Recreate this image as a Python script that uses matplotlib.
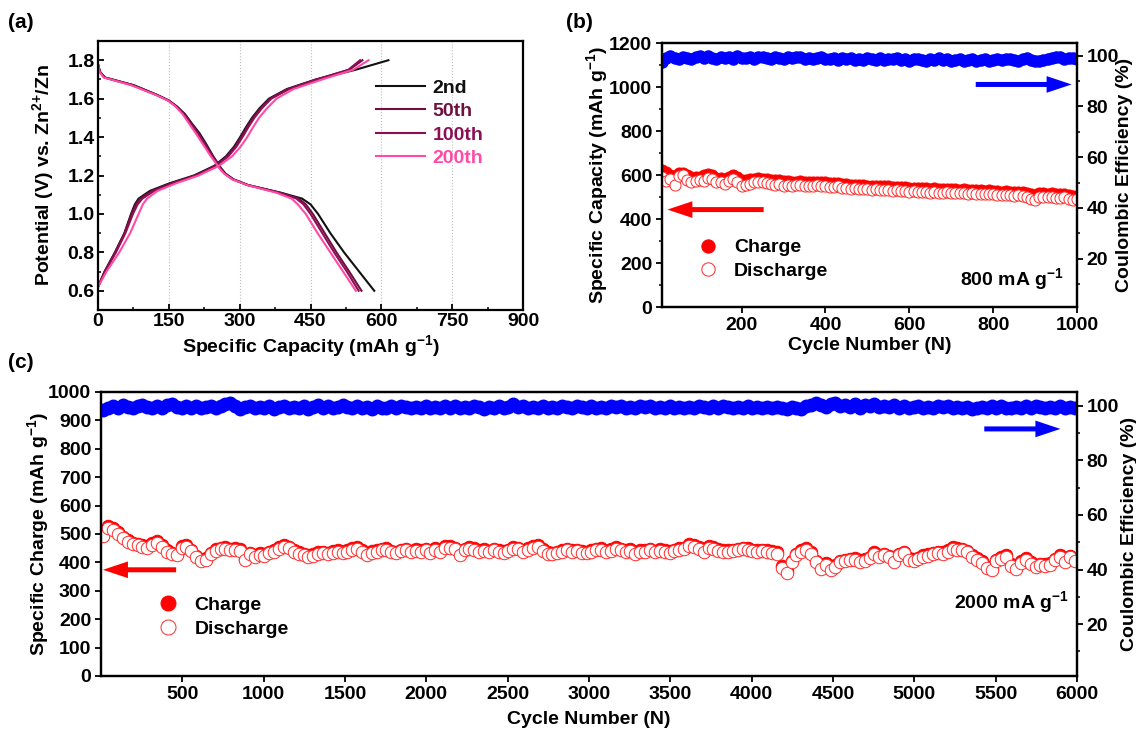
import numpy as np
import matplotlib
matplotlib.use('Agg')
import matplotlib.pyplot as plt
from matplotlib.ticker import MultipleLocator, FixedLocator, FormatStrFormatter

plt.rcParams['font.family'] = ['Liberation Sans', 'DejaVu Sans']
plt.rcParams['font.weight'] = 'bold'
plt.rcParams['axes.labelweight'] = 'bold'
plt.rcParams['mathtext.fontset'] = 'custom'
plt.rcParams['mathtext.rm'] = 'Liberation Sans:bold'
plt.rcParams['mathtext.it'] = 'Liberation Sans:bold'
plt.rcParams['mathtext.bf'] = 'Liberation Sans:bold'
plt.rcParams['mathtext.default'] = 'rm'

# ---------------- Panel (a) data: galvanostatic profiles ----------------
cycle_labels = ['2nd', '50th', '100th', '200th']
cycle_colors = ['#111111', '#6e1040', '#8c0f55', '#ff4aa6']

charge_voltage = [0.62, 0.70, 0.80, 0.90, 1.00, 1.05, 1.08, 1.12, 1.16, 1.20, 1.25,
                  1.30, 1.35, 1.40, 1.45, 1.50, 1.55, 1.60, 1.65, 1.70, 1.75, 1.80]
charge_cap_2nd = [0, 14, 36, 56, 70, 78, 86, 110, 152, 203, 246, 271, 288, 301, 313, 326, 342, 362, 400, 462, 545, 615]
charge_cap_50th = [0, 14, 36, 56, 71, 80, 89, 114, 156, 206, 248, 273, 290, 303, 315, 328, 344, 364, 402, 462, 532, 560]
charge_cap_100th = [0, 15, 38, 58, 74, 84, 94, 119, 160, 208, 250, 276, 293, 306, 318, 331, 347, 367, 405, 465, 530, 555]
charge_cap_200th = [0, 18, 45, 68, 86, 95, 104, 126, 166, 213, 256, 284, 302, 316, 328, 341, 358, 378, 414, 475, 540, 573]

discharge_voltage = [1.78, 1.74, 1.71, 1.67, 1.62, 1.59, 1.56, 1.52, 1.47, 1.42, 1.36, 1.30, 1.27,
                     1.24, 1.21, 1.18, 1.15, 1.11, 1.08, 1.05, 1.00, 0.90, 0.80, 0.70, 0.60]
discharge_cap_2nd = [0, 4, 15, 76, 125, 150, 167, 184, 199, 215, 230, 244, 252, 260, 270, 287, 318, 388, 432, 450, 466, 492, 521, 553, 585]
discharge_cap_50th = [0, 4, 14, 74, 124, 150, 166, 183, 198, 213, 228, 243, 251, 259, 269, 286, 318, 386, 425, 440, 455, 480, 505, 532, 558]
discharge_cap_100th = [0, 4, 14, 73, 123, 149, 165, 181, 196, 211, 227, 242, 250, 258, 268, 285, 317, 384, 420, 435, 450, 475, 500, 527, 552]
discharge_cap_200th = [0, 3, 12, 70, 122, 148, 164, 179, 193, 207, 223, 239, 248, 256, 267, 284, 316, 378, 410, 423, 440, 465, 492, 519, 546]

charge_caps = [charge_cap_2nd, charge_cap_50th, charge_cap_100th, charge_cap_200th]
discharge_caps = [discharge_cap_2nd, discharge_cap_50th, discharge_cap_100th, discharge_cap_200th]

# ---------------- Panel (b) data: 800 mA/g cycling (every 10 cycles) ----------------
discharge_b = [593, 575, 582, 556, 595, 600, 578, 566, 572, 578,
               575, 586, 580, 568, 566, 560, 572, 580, 570, 552,
               556, 560, 566, 570, 566, 563, 560, 556, 560, 552,
               555, 550, 553, 556, 550, 548, 552, 554, 548, 550,
               546, 544, 548, 540, 542, 538, 540, 536, 538, 535,
               534, 536, 530, 532, 534, 528, 530, 526, 528, 524,
               526, 523, 525, 522, 520, 524, 520, 518, 522, 520,
               518, 516, 519, 515, 517, 513, 515, 512, 514, 512,
               510, 508, 511, 508, 506, 508, 504, 502, 492, 488,
               500, 502, 498, 500, 497, 495, 498, 492, 488, 490]
charge_b = [622, 615, 600, 595, 610, 608, 598, 592, 590, 592,
            598, 605, 598, 588, 585, 583, 590, 600, 592, 578,
            576, 580, 584, 585, 582, 580, 578, 576, 576, 572,
            572, 570, 570, 572, 568, 566, 568, 570, 566, 566,
            563, 562, 563, 558, 559, 556, 556, 553, 554, 552,
            551, 552, 548, 549, 550, 546, 547, 544, 545, 542,
            543, 541, 542, 539, 538, 540, 537, 535, 538, 537,
            535, 533, 535, 532, 533, 530, 531, 529, 530, 528,
            527, 525, 527, 525, 523, 524, 521, 519, 512, 510,
            516, 518, 515, 516, 514, 512, 513, 508, 505, 503]
ce_b = [97.4, 99.0, 99.8, 99.2, 98.6, 99.6, 99.1, 98.5, 99.5, 99.8,
        99.0, 99.8, 99.2, 98.7, 99.6, 99.1, 99.5, 98.6, 99.7, 99.2,
        98.9, 99.5, 98.7, 99.3, 99.6, 98.9, 98.6, 99.3, 99.1, 98.7,
        99.4, 98.9, 99.3, 99.6, 98.7, 99.2, 98.6, 99.0, 99.4, 98.5,
        98.8, 99.2, 98.4, 98.9, 98.7, 99.1, 98.3, 98.8, 98.2, 98.9,
        98.6, 98.4, 98.9, 98.3, 98.8, 98.5, 98.9, 98.2, 98.7, 98.0,
        98.6, 98.8, 98.4, 98.1, 98.7, 98.4, 98.9, 98.2, 98.6, 98.1,
        98.4, 98.7, 98.0, 98.3, 98.6, 97.9, 98.2, 98.5, 98.0, 98.4,
        98.7, 98.2, 98.5, 98.8, 98.3, 98.0, 98.6, 98.9, 98.4, 98.1,
        97.9, 98.4, 98.8, 99.0, 99.3, 99.4, 98.8, 99.1, 99.2, 98.6]
cycles_b = np.arange(10, 1001, 10)

# ---------------- Panel (c) data: 2000 mA/g cycling (every 30 cycles) ----------------
discharge_c = [492, 520, 515, 500, 485, 472, 465, 460, 455, 452,
               462, 470, 455, 438, 428, 425, 452, 455, 440, 418,
               404, 410, 428, 440, 446, 448, 442, 445, 440, 408,
               428, 420, 426, 424, 432, 438, 448, 455, 450, 438,
               430, 426, 420, 424, 430, 432, 428, 434, 436, 432,
               438, 445, 448, 438, 425, 434, 438, 442, 444, 436,
               432, 440, 442, 436, 440, 438, 442, 432, 444, 438,
               450, 452, 446, 425, 442, 448, 444, 438, 440, 436,
               442, 438, 434, 440, 448, 446, 438, 444, 452, 455,
               440, 430, 428, 432, 438, 442, 436, 440, 434, 432,
               438, 442, 444, 436, 440, 448, 442, 438, 440, 430,
               436, 438, 442, 436, 440, 438, 434, 440, 444, 446,
               458, 455, 448, 436, 452, 448, 440, 438, 436, 440,
               442, 446, 444, 440, 438, 440, 436, 434, 430, 382,
               362, 400, 425, 438, 445, 430, 400, 378, 392, 372,
               385, 400, 404, 408, 410, 402, 405, 415, 430, 420,
               425, 418, 402, 425, 432, 410, 405, 412, 420, 424,
               428, 432, 430, 438, 448, 445, 442, 436, 420, 410,
               398, 380, 372, 405, 412, 420, 388, 376, 398, 410,
               395, 385, 390, 388, 392, 408, 420, 402, 418, 406]
charge_c = [498, 527, 521, 506, 491, 478, 470, 466, 461, 457,
            468, 476, 461, 443, 434, 430, 458, 461, 445, 424,
            409, 416, 434, 446, 451, 454, 447, 451, 446, 413,
            434, 425, 432, 429, 438, 443, 454, 461, 455, 444,
            436, 431, 426, 429, 436, 437, 434, 439, 442, 437,
            444, 450, 454, 443, 431, 439, 444, 447, 450, 441,
            438, 445, 448, 441, 446, 443, 448, 437, 450, 443,
            456, 457, 452, 430, 448, 453, 450, 443, 446, 441,
            448, 443, 440, 445, 454, 451, 444, 449, 458, 460,
            446, 435, 434, 437, 444, 447, 442, 445, 440, 437,
            444, 447, 450, 441, 446, 453, 448, 443, 446, 435,
            442, 443, 448, 441, 446, 443, 440, 445, 450, 451,
            464, 460, 454, 441, 458, 453, 446, 443, 442, 445,
            448, 451, 450, 445, 444, 445, 442, 439, 436, 388,
            368, 405, 431, 443, 451, 435, 406, 383, 398, 377,
            391, 405, 410, 413, 416, 407, 411, 420, 436, 425,
            431, 423, 408, 430, 438, 415, 411, 417, 426, 429,
            434, 437, 436, 443, 454, 450, 448, 441, 426, 415,
            404, 385, 378, 410, 418, 425, 394, 381, 404, 415,
            401, 390, 396, 393, 398, 413, 426, 407, 424, 411]
ce_c = [98.4, 99.3, 99.8, 99.2, 100.1, 99.6, 99.0, 99.7, 100.3, 99.4,
        99.1, 99.8, 99.2, 100.2, 100.6, 99.5, 99.0, 99.9, 99.3, 99.7,
        99.0, 99.6, 100.0, 99.2, 99.8, 100.5, 100.8, 99.8, 98.9, 99.4,
        99.8, 99.1, 99.6, 99.2, 100.0, 98.8, 99.4, 99.9, 99.0, 99.6,
        99.2, 99.8, 98.9, 99.6, 100.1, 99.2, 99.8, 99.0, 99.6, 100.2,
        99.4, 99.0, 99.7, 99.2, 99.6, 98.9, 99.9, 99.3, 99.0, 99.7,
        99.2, 100.0, 99.4, 99.1, 99.6, 99.0, 99.8, 99.3, 99.6, 99.1,
        99.7, 99.3, 100.0, 99.2, 99.6, 99.0, 99.8, 99.4, 98.9, 99.6,
        99.2, 99.8, 99.0, 99.6, 100.6, 99.4, 99.8, 99.2, 99.6, 99.0,
        99.7, 99.3, 99.6, 99.1, 100.0, 99.4, 99.0, 99.8, 99.5, 99.2,
        99.8, 99.3, 99.6, 99.0, 99.7, 99.4, 99.9, 99.2, 99.6, 99.1,
        99.7, 99.4, 100.0, 99.2, 99.6, 99.1, 99.8, 99.3, 99.6, 99.2,
        99.6, 99.2, 99.8, 99.4, 99.0, 99.7, 99.3, 99.9, 99.4, 99.1,
        99.6, 99.3, 99.8, 99.2, 99.6, 99.0, 99.5, 99.2, 99.6, 99.3,
        98.6, 99.5, 99.2, 98.8, 99.7, 100.4, 100.8, 100.1, 99.4, 100.6,
        100.9, 99.8, 100.3, 99.6, 100.5, 99.3, 100.2, 99.8, 100.6, 99.4,
        99.9, 99.4, 100.1, 99.2, 99.7, 99.0, 99.6, 99.9, 99.3, 99.6,
        99.1, 99.7, 99.4, 99.9, 99.2, 99.6, 99.0, 99.5, 98.7, 99.3,
        99.6, 99.1, 99.7, 99.3, 99.8, 99.2, 99.0, 99.6, 99.3, 99.8,
        99.2, 99.7, 99.4, 99.0, 99.6, 99.3, 99.8, 99.2, 99.6, 99.1]
cycles_c = np.arange(15, 6000, 30)

# ---------------- Figure ----------------
W, H = 1136, 731
fig = plt.figure(figsize=(W / 100, H / 100), dpi=100)

def px_rect(l, t, r, b):
    return [l / W, 1 - b / H, (r - l) / W, (b - t) / H]

FS = 14
SPINE_W = 1.6

def style_axes(ax, direction='out'):
    for s in ax.spines.values():
        s.set_linewidth(SPINE_W)
    ax.tick_params(which='major', direction=direction, length=4.5, width=1.3, labelsize=FS, pad=2.5)
    ax.tick_params(which='minor', direction=direction, length=2.5, width=1.1)

# ---- (a)
ax_a = fig.add_axes(px_rect(98, 41, 523, 310))
lines = []
for lab, col, qc, qd in zip(cycle_labels, cycle_colors, charge_caps, discharge_caps):
    ln, = ax_a.plot(qc, charge_voltage, color=col, lw=1.5, label=lab)
    ax_a.plot(qd, discharge_voltage, color=col, lw=1.5)
    lines.append(ln)
ax_a.set_xlim(0, 900)
ax_a.set_ylim(0.5, 1.9)
ax_a.xaxis.set_major_locator(MultipleLocator(150))
ax_a.xaxis.set_minor_locator(MultipleLocator(75))
ax_a.yaxis.set_major_locator(FixedLocator([0.6, 0.8, 1.0, 1.2, 1.4, 1.6, 1.8]))
ax_a.yaxis.set_minor_locator(MultipleLocator(0.1))
ax_a.yaxis.set_major_formatter(FormatStrFormatter('%.1f'))
ax_a.xaxis.grid(True, ls=':', color='#bdbdbd', lw=0.8)
style_axes(ax_a, 'in')
ax_a.set_xlabel('Specific Capacity (mAh g$^{-1}$)', fontsize=FS, labelpad=2)
ax_a.set_ylabel('Potential (V) vs. Zn$^{2{+}}$/Zn', fontsize=FS, labelpad=8)
leg = ax_a.legend(handles=lines, loc='upper left', bbox_to_anchor=(0.655, 0.858),
                  frameon=False, fontsize=FS, handlelength=2.5, handletextpad=0.4,
                  labelspacing=0.3, borderpad=0, borderaxespad=0)
for txt, col in zip(leg.get_texts(), cycle_colors):
    txt.set_color(col)

# ---- helper for cycling panels
ARROW = 'simple,head_length=0.9,head_width=0.6,tail_width=0.18'

def cycling_panel(rect, cycles, charge, discharge, ce, ylim_left, left_major, left_minor,
                  xlim, xticks, ylabel, rate_text, ms, legend_anchor,
                  red_arrow, blue_arrow, rate_pos, pads):
    ax = fig.add_axes(rect)
    ax.plot(cycles, charge, 'o', ls='none', ms=ms, mfc='red', mec='red', mew=0.7,
            label='Charge')
    ax.plot(cycles, discharge, 'o', ls='none', ms=ms, mfc='white', mec='#ff2a2a', mew=0.7,
            label='Discharge')
    ax.set_xlim(*xlim)
    ax.set_ylim(*ylim_left)
    ax.xaxis.set_major_locator(FixedLocator(xticks))
    ax.yaxis.set_major_locator(MultipleLocator(left_major))
    if left_minor:
        ax.yaxis.set_minor_locator(MultipleLocator(left_minor))
    style_axes(ax, 'out')
    ax.set_xlabel('Cycle Number (N)', fontsize=FS, labelpad=pads[0])
    ax.set_ylabel(ylabel, fontsize=FS, labelpad=pads[1])
    ax.legend(loc='upper left', bbox_to_anchor=legend_anchor, frameon=False,
              fontsize=FS, handletextpad=0.35, labelspacing=0.3, borderpad=0,
              borderaxespad=0, markerscale=1.2)
    ax2 = ax.twinx()
    ax2.plot(cycles, ce, 'o', ls='none', ms=ms, color='#0000ff', mec='#0000ff')
    ax2.set_ylim(1, 105)
    ax2.yaxis.set_major_locator(FixedLocator([20, 40, 60, 80, 100]))
    ax2.yaxis.set_minor_locator(FixedLocator([10, 30, 50, 70, 90]))
    style_axes(ax2, 'out')
    ax2.set_ylabel('Coulombic Efficiency (%)', fontsize=FS, labelpad=pads[2])
    for arr, col in ((red_arrow, 'red'), (blue_arrow, 'blue')):
        ax2.annotate('', xy=(arr[1], arr[2]), xytext=(arr[0], arr[2]),
                     xycoords='axes fraction', textcoords='axes fraction',
                     arrowprops=dict(arrowstyle=ARROW, color=col, lw=0,
                                     mutation_scale=20, shrinkA=0, shrinkB=0))
    ax2.text(rate_pos[0], rate_pos[1], rate_text, transform=ax2.transAxes,
             ha='right', va='center', fontsize=FS)
    return ax, ax2

cycling_panel(px_rect(662, 43, 1077, 307), cycles_b, charge_b, discharge_b, ce_b,
              (0, 1200), 200, 100, (10, 1000), [200, 400, 600, 800, 1000],
              'Specific Capacity (mAh g$^{-1}$)', '800 mA g$^{-1}$', 8,
              (0.063, 0.258), (0.245, 0.013, 0.369), (0.756, 0.987, 0.843), (0.968, 0.105),
              (2, -0.5, -2.5))

cycling_panel(px_rect(101, 392, 1077, 676), cycles_c, charge_c, discharge_c, ce_c,
              (0, 1000), 100, None, (0, 6000), list(range(500, 6001, 500)),
              'Specific Charge (mAh g$^{-1}$)', '2000 mA g$^{-1}$', 9,
              (0.049, 0.28), (0.077, 0.002, 0.374), (0.905, 0.983, 0.870), (0.992, 0.26),
              (6, -2, 1.5))

fig.text(8 / W, 1 - 22 / H, '(a)', fontsize=15, va='center', ha='left')
fig.text(566 / W, 1 - 22 / H, '(b)', fontsize=15, va='center', ha='left')
fig.text(8 / W, 1 - 362 / H, '(c)', fontsize=15, va='center', ha='left')

fig.savefig('out.png', dpi=100)
